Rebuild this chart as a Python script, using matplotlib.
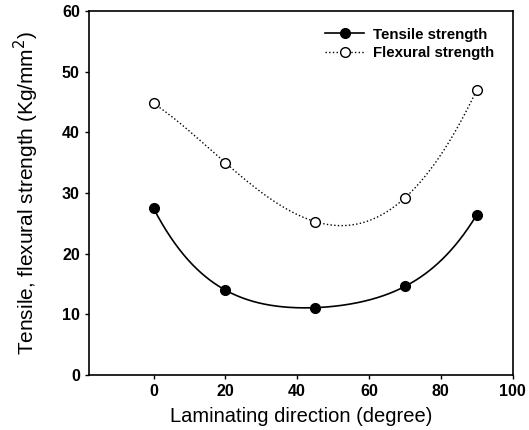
import numpy as np
import matplotlib.pyplot as plt

plt.rcParams['font.family'] = ['Liberation Sans', 'DejaVu Sans']

direction = [0, 20, 45, 70, 90]
tensile = [27.5, 14.0, 11.1, 14.6, 26.4]
flexural = [44.8, 35.0, 25.3, 29.2, 47.0]


def smooth(x, y, n=300):
    """Polynomial curve passing through every point (degree = n_points - 1)."""
    c = np.polyfit(x, y, len(x) - 1)
    xs = np.linspace(min(x), max(x), n)
    return xs, np.polyval(c, xs)


fig = plt.figure(figsize=(5.29, 4.30), dpi=100)
ax = fig.add_axes([0.168, 0.128, 0.801, 0.846])

xs, ys = smooth(direction, tensile)
ax.plot(xs, ys, color="k", lw=1.2, ls="-")
xs, ys = smooth(direction, flexural)
ax.plot(xs, ys, color="k", lw=1.0, ls=":")

ax.plot(direction, tensile, "o", ms=7, mfc="k", mec="k")
ax.plot(direction, flexural, "o", ms=7, mfc="white", mec="k", mew=1.0)

# legend proxies: line + marker together
ax.plot([], [], "o-", color="k", ms=7, lw=1.2, label="Tensile strength")
ax.plot([], [], "o:", color="k", mfc="white", ms=7, lw=1.0, label="Flexural strength")
ax.legend(loc="upper right", frameon=False, fontsize=10.8, handlelength=2.6,
          borderaxespad=0.4, labelspacing=0.3, handletextpad=0.6,
          bbox_to_anchor=(0.985, 0.988))
leg = ax.get_legend()
for t in leg.get_texts():
    t.set_fontweight("bold")

ax.set_xlim(-18, 100)
ax.set_ylim(0, 60)
ax.set_xticks(range(0, 101, 20))
ax.set_yticks(range(0, 61, 10))
ax.tick_params(direction="out", length=3, width=1, labelsize=11.5)
for lab in ax.get_xticklabels() + ax.get_yticklabels():
    lab.set_fontweight("bold")
for s in ax.spines.values():
    s.set_linewidth(1.2)

ax.set_xlabel("Laminating direction (degree)", fontsize=14.5, labelpad=6)
ax.set_ylabel("Tensile, flexural strength (Kg/mm$^2$)", fontsize=15, labelpad=15)

fig.savefig("out.png", dpi=100)
